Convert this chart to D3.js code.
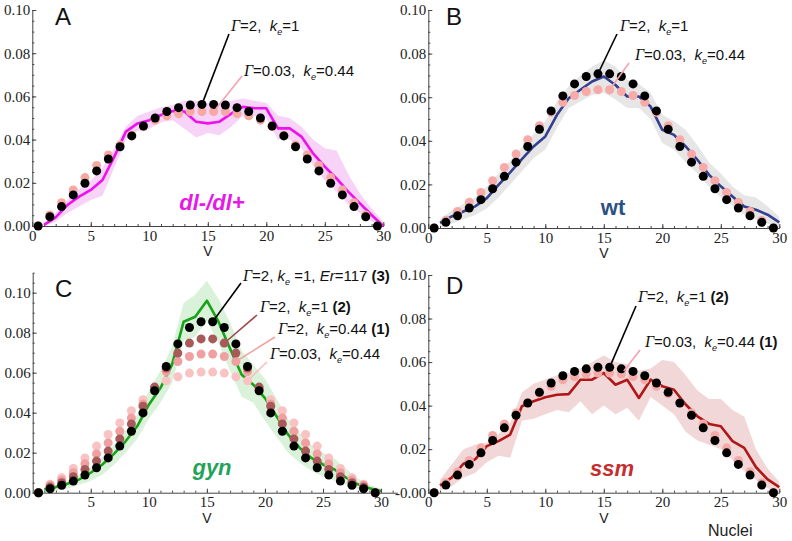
<!DOCTYPE html>
<html>
<head>
<meta charset="utf-8">
<script src="https://cdn.jsdelivr.net/npm/d3@7"></script>
<style>
  body { margin: 0; background: #fff; }
  svg { display: block; }
  .axis path, .axis line { stroke: #444; stroke-width: 1; }
  .axis text { font-family: "Liberation Serif", "Times New Roman", serif; font-size: 15px; fill: #222; }
  .ann { font-family: "Liberation Sans", Arial, sans-serif; font-size: 15px; fill: #111; white-space: pre; }
</style>
</head>
<body>
<svg id="chart" width="792" height="541"></svg>
<script>
// nuclei positions (dots at half-steps, measured curves at integers)
const xDots = [0.5,1.5,2.5,3.5,4.5,5.5,6.5,7.5,8.5,9.5,10.5,11.5,12.5,13.5,14.5,15.5,16.5,17.5,18.5,19.5,20.5,21.5,22.5,23.5,24.5,25.5,26.5,27.5,28.5,29.5];
const xLine = [1,2,3,4,5,6,7,8,9,10,11,12,13,14,15,16,17,18,19,20,21,22,23,24,25,26,27,28,29,30];
const yTicks = [0, 0.02, 0.04, 0.06, 0.08, 0.10];
const xTicksFull = [0, 5, 10, 15, 20, 25, 30];
const xTicksNoZero = [5, 10, 15, 20, 25, 30];

// A: dl-/dl+
const dlBlack = [0,0.0043,0.009,0.0144,0.0198,0.0255,0.031,0.0367,0.0417,0.0463,0.050,0.053,0.0548,0.056,0.0563,0.0563,0.056,0.0548,0.053,0.050,0.0463,0.0417,0.0367,0.031,0.0255,0.0198,0.0144,0.009,0.0043,0];
const dlPink = [0,0.0051,0.0108,0.0167,0.0224,0.028,0.0329,0.0375,0.042,0.046,0.049,0.051,0.052,0.053,0.053,0.053,0.053,0.052,0.051,0.049,0.046,0.042,0.0375,0.0329,0.028,0.0224,0.0167,0.0108,0.0051,0];
const dlLine = [0.0005,0.004,0.0097,0.0136,0.0167,0.0213,0.032,0.0437,0.0475,0.049,0.0514,0.0532,0.053,0.0483,0.0475,0.0483,0.052,0.0552,0.0545,0.0545,0.0452,0.0452,0.0414,0.0336,0.0275,0.022,0.0159,0.0105,0.0051,0];
const dlUpper = [0.001,0.006,0.012,0.017,0.021,0.027,0.036,0.046,0.051,0.053,0.055,0.056,0.058,0.058,0.057,0.057,0.058,0.059,0.058,0.057,0.051,0.050,0.046,0.040,0.036,0.035,0.024,0.015,0.008,0.002];
const dlLower = [0,0.002,0.006,0.009,0.012,0.014,0.027,0.040,0.044,0.045,0.048,0.049,0.045,0.041,0.043,0.042,0.046,0.051,0.051,0.050,0.040,0.040,0.036,0.028,0.021,0.016,0.010,0.006,0.002,0];

// B: wt
const wtBlack = [0,0.0026,0.0056,0.0092,0.013,0.018,0.0237,0.0302,0.0374,0.0453,0.0537,0.0606,0.0661,0.0695,0.0707,0.0707,0.0695,0.0661,0.0606,0.0537,0.0453,0.0374,0.0302,0.0237,0.018,0.013,0.0092,0.0056,0.0026,0];
const wtPink = [0,0.0035,0.0076,0.0118,0.0163,0.0217,0.0278,0.0339,0.0405,0.0469,0.0531,0.0577,0.0608,0.0626,0.0634,0.0634,0.0626,0.0608,0.0577,0.0531,0.0469,0.0405,0.0339,0.0278,0.0217,0.0163,0.0118,0.0076,0.0035,0];
const wtLine = [0.0023,0.0053,0.0076,0.0099,0.0137,0.0198,0.0255,0.0316,0.0374,0.042,0.0519,0.0595,0.0634,0.0672,0.0695,0.0656,0.0603,0.0603,0.0557,0.045,0.0427,0.0374,0.0313,0.0244,0.0191,0.0145,0.0099,0.0084,0.0061,0.0026];
const wtUpper = [0.004,0.008,0.011,0.014,0.019,0.025,0.031,0.037,0.043,0.049,0.058,0.065,0.070,0.074,0.077,0.074,0.068,0.066,0.062,0.052,0.049,0.045,0.038,0.030,0.025,0.019,0.015,0.014,0.010,0.005];
const wtLower = [0,0.002,0.004,0.006,0.009,0.014,0.020,0.026,0.032,0.036,0.046,0.055,0.058,0.061,0.062,0.059,0.055,0.055,0.050,0.039,0.036,0.030,0.025,0.019,0.014,0.010,0.006,0.004,0.002,0];

// C: gyn
const gynBlack = [0,0.002,0.0037,0.0058,0.0088,0.0125,0.0174,0.0233,0.0307,0.0399,0.051,0.0631,0.0744,0.0826,0.0855,0.0855,0.0826,0.0744,0.0631,0.051,0.0399,0.0307,0.0233,0.0174,0.0125,0.0088,0.0058,0.0037,0.002,0];
const gynBrown = [0,0.0028,0.005,0.008,0.0116,0.0158,0.0208,0.0269,0.0344,0.0432,0.0528,0.0623,0.0698,0.0748,0.0769,0.0769,0.0748,0.0698,0.0623,0.0528,0.0432,0.0344,0.0269,0.0208,0.0158,0.0116,0.008,0.005,0.0028,0];
const gynPink = [0,0.0037,0.0063,0.01,0.0145,0.0194,0.0249,0.0307,0.0374,0.0444,0.0523,0.0606,0.0656,0.0681,0.0693,0.0693,0.0681,0.0656,0.0606,0.0523,0.0444,0.0374,0.0307,0.0249,0.0194,0.0145,0.01,0.0063,0.0037,0];
const gynLight = [0,0.0042,0.0075,0.0121,0.0174,0.0233,0.0291,0.0349,0.041,0.0465,0.052,0.056,0.058,0.0598,0.0603,0.0603,0.0598,0.058,0.056,0.052,0.0465,0.041,0.0349,0.0291,0.0233,0.0174,0.0121,0.0075,0.0042,0];
const gynLine = [0.0017,0.0028,0.0045,0.0066,0.01,0.0141,0.0194,0.0257,0.0332,0.044,0.0523,0.064,0.0855,0.088,0.096,0.0855,0.072,0.059,0.054,0.0473,0.0382,0.029,0.0224,0.0174,0.0141,0.0116,0.0075,0.0042,0.0022,0.0008];
const gynUpper = [0.003,0.004,0.006,0.009,0.013,0.018,0.024,0.031,0.039,0.051,0.061,0.073,0.095,0.099,0.106,0.097,0.085,0.071,0.064,0.057,0.047,0.037,0.030,0.024,0.020,0.017,0.012,0.007,0.004,0.002];
const gynLower = [0,0.001,0.002,0.004,0.006,0.009,0.014,0.020,0.027,0.037,0.045,0.055,0.076,0.078,0.086,0.075,0.061,0.048,0.045,0.036,0.028,0.020,0.015,0.011,0.008,0.006,0.004,0.002,0.001,0];

// D: ssm
const ssmBlack = [0,0.0035,0.0081,0.013,0.0183,0.024,0.0298,0.0356,0.0412,0.0461,0.0504,0.0537,0.0557,0.0569,0.0576,0.0576,0.0569,0.0557,0.0537,0.0504,0.0461,0.0412,0.0356,0.0298,0.024,0.0183,0.013,0.0081,0.0035,0];
const ssmPink = [0,0.0046,0.0096,0.0148,0.0206,0.0263,0.0316,0.0366,0.0412,0.0455,0.0489,0.0519,0.0534,0.0545,0.055,0.055,0.0545,0.0534,0.0519,0.0489,0.0455,0.0412,0.0366,0.0316,0.0263,0.0206,0.0148,0.0096,0.0046,0];
const ssmLine = [0.0034,0.0069,0.0133,0.0153,0.0214,0.0237,0.0267,0.0397,0.042,0.0438,0.045,0.0453,0.0519,0.0519,0.055,0.0496,0.0519,0.0435,0.0519,0.0489,0.0473,0.0405,0.0351,0.0316,0.0305,0.0237,0.0206,0.0118,0.0061,0.0026];
const ssmUpper = [0.006,0.013,0.020,0.022,0.023,0.027,0.032,0.046,0.050,0.052,0.054,0.055,0.057,0.060,0.063,0.060,0.059,0.056,0.057,0.061,0.060,0.054,0.047,0.043,0.043,0.038,0.035,0.020,0.011,0.005];
const ssmLower = [0.001,0.003,0.007,0.009,0.014,0.017,0.016,0.033,0.034,0.036,0.038,0.037,0.042,0.036,0.040,0.036,0.039,0.033,0.044,0.040,0.036,0.028,0.024,0.022,0.020,0.015,0.010,0.006,0.002,0];

const svg = d3.select("#chart");
const fmt = d3.format(".2f");

function addLabel(g, segs, x, y) {
  const t = g.append("text").attr("class", "ann").attr("x", x).attr("y", y);
  let shift = 0;
  segs.forEach(([str, kind]) => {
    const ts = t.append("tspan").text(str);
    const want = kind === "s" ? 4 : 0;
    if (want !== shift) { ts.attr("dy", want - shift); shift = want; }
    if (kind === "g") ts.attr("font-family", "'Liberation Serif', serif").attr("font-style", "italic").attr("font-size", 16);
    if (kind === "i") ts.attr("font-style", "italic");
    if (kind === "s") ts.attr("font-style", "italic").attr("font-size", 9);
    if (kind === "b") ts.attr("font-weight", "bold");
  });
}

function drawPanel(p) {
  const x = d3.scaleLinear().domain(p.xDomain).range(p.xRange);
  const y = d3.scaleLinear().domain(p.yDomain).range(p.yRange);
  const g = svg.append("g");

  const area = d3.area()
    .x((d, i) => x(xLine[i]))
    .y0(d => y(d[0]))
    .y1(d => y(d[1]));
  g.append("path")
    .datum(d3.zip(p.lower, p.upper))
    .attr("d", area)
    .attr("fill", p.bandColor)
    .attr("fill-opacity", 0.75);

  // axes (Mathematica style: ticks pointing inward)
  const minorY = d3.range(0, p.yDomain[1] + 1e-9, 0.005);
  const minorX = d3.range(1, p.xDomain[1] + 1e-9, 1);
  g.append("g").attr("class", "axis")
    .attr("transform", `translate(0,${p.yRange[0]})`)
    .call(d3.axisBottom(x).tickValues(minorX).tickSizeInner(-2).tickSizeOuter(0).tickFormat(""))
    .call(a => a.select(".domain").remove());
  g.append("g").attr("class", "axis")
    .attr("transform", `translate(0,${p.yRange[0]})`)
    .call(d3.axisBottom(x).tickValues(p.xTicks).tickSizeInner(-4).tickSizeOuter(0).tickPadding(4).tickFormat(d3.format("d")));
  g.append("g").attr("class", "axis")
    .attr("transform", `translate(${p.xRange[0]},0)`)
    .call(d3.axisLeft(y).tickValues(minorY).tickSizeInner(-2).tickSizeOuter(0).tickFormat(""))
    .call(a => a.select(".domain").remove());
  g.append("g").attr("class", "axis")
    .attr("transform", `translate(${p.xRange[0]},0)`)
    .call(d3.axisLeft(y).tickValues(yTicks).tickSizeInner(-4).tickSizeOuter(0).tickPadding(2)
      .tickFormat(d => (d === 0 && p.negZero) ? "-0.00" : fmt(d)));

  const line = d3.line().x((d, i) => x(xLine[i])).y(d => y(d));
  g.append("path")
    .datum(p.line)
    .attr("d", line)
    .attr("fill", "none")
    .attr("stroke", p.lineColor)
    .attr("stroke-width", 2.6)
    .attr("stroke-linejoin", "round");

  p.dots.forEach(s => {
    g.append("g").selectAll("circle")
      .data(s.values)
      .join("circle")
      .attr("cx", (d, i) => x(xDots[i]))
      .attr("cy", d => y(d))
      .attr("r", 4.5)
      .attr("fill", s.color);
  });

  // leader lines + annotation text
  p.notes.forEach(n => {
    const s = p.dots.find(dd => dd.key === n.series);
    const cx = x(xDots[n.i]), cy = y(s.values[n.i]);
    const dx = n.from[0] - cx, dy = n.from[1] - cy;
    const len = Math.hypot(dx, dy);
    g.append("line")
      .attr("x1", n.from[0]).attr("y1", n.from[1])
      .attr("x2", cx + dx / len * 4).attr("y2", cy + dy / len * 4)
      .attr("stroke", n.color).attr("stroke-width", 1.6);
    addLabel(g, n.segs, n.tx, n.ty);
  });

  g.append("text")
    .attr("x", p.letterPos[0]).attr("y", p.letterPos[1])
    .attr("font-family", "'Liberation Sans', Arial, sans-serif")
    .attr("font-size", 24).attr("fill", "#111")
    .text(p.letter);

  g.append("text")
    .attr("x", x(15)).attr("y", p.yRange[0] + 30)
    .attr("text-anchor", "middle")
    .attr("font-family", "'Liberation Sans', Arial, sans-serif")
    .attr("font-size", 14).attr("fill", "#222")
    .text("V");

  g.append("text")
    .attr("x", p.genoPos[0]).attr("y", p.genoPos[1])
    .attr("text-anchor", "middle")
    .attr("font-family", "'Liberation Sans', Arial, sans-serif")
    .attr("font-size", 22).attr("font-weight", "bold")
    .attr("font-style", p.genoItalic ? "italic" : "normal")
    .attr("fill", p.genoColor)
    .text(p.geno);
}

const segG2 = [["Γ", "g"], ["=2,  ", "n"], ["k", "i"], ["e", "s"], ["=1", "n"]];
const segG003 = [["Γ", "g"], ["=0.03,  ", "n"], ["k", "i"], ["e", "s"], ["=0.44", "n"]];

drawPanel({
  xDomain: [0, 30], xRange: [32.3, 383.3], yDomain: [0, 0.1], yRange: [226, 10],
  xTicks: xTicksFull,
  lower: dlLower, upper: dlUpper, bandColor: "#f6c4f6",
  line: dlLine, lineColor: "#ee11ee",
  dots: [{ key: "pink", values: dlPink, color: "#f5a9a2" }, { key: "black", values: dlBlack, color: "#000" }],
  notes: [
    { segs: segG2, tx: 231, ty: 31, from: [229, 34], series: "black", i: 14, color: "#000" },
    { segs: segG003, tx: 244, ty: 76, from: [242, 76], series: "pink", i: 15, color: "#f4a3b3" }
  ],
  letter: "A", letterPos: [55, 25],
  geno: "dl-/dl+", genoPos: [212, 210], genoColor: "#e619e6", genoItalic: true
});

drawPanel({
  xDomain: [0, 30], xRange: [428.3, 779.3], yDomain: [0, 0.1], yRange: [228, 10],
  xTicks: xTicksFull,
  lower: wtLower, upper: wtUpper, bandColor: "#dedede",
  line: wtLine, lineColor: "#34408f",
  dots: [{ key: "pink", values: wtPink, color: "#f7aaa8" }, { key: "black", values: wtBlack, color: "#000" }],
  notes: [
    { segs: segG2, tx: 620, ty: 31, from: [617, 34], series: "black", i: 14, color: "#000" },
    { segs: segG003, tx: 635, ty: 60, from: [629, 63], series: "pink", i: 15, color: "#f4a3b3" }
  ],
  letter: "B", letterPos: [446, 25],
  geno: "wt", genoPos: [613, 215], genoColor: "#2b5282", genoItalic: false
});

drawPanel({
  xDomain: [0, 31.4], xRange: [32.7, 397.3], yDomain: [0, 0.11], yRange: [492.7, 272.7],
  xTicks: xTicksNoZero,
  lower: gynLower, upper: gynUpper, bandColor: "#cdeccd",
  line: gynLine, lineColor: "#17a317",
  dots: [
    { key: "light", values: gynLight, color: "#f9c3c3" },
    { key: "pink", values: gynPink, color: "#f0a0a0" },
    { key: "brown", values: gynBrown, color: "#a85a5a" },
    { key: "black", values: gynBlack, color: "#000" }
  ],
  notes: [
    { segs: [["Γ", "g"], ["=2, ", "n"], ["k", "i"], ["e", "s"], [" =1, ", "n"], ["Er", "i"], ["=117 ", "n"], ["(3)", "b"]],
      tx: 243, ty: 281, from: [241, 283], series: "black", i: 15, color: "#000" },
    { segs: [["Γ", "g"], ["=2,  ", "n"], ["k", "i"], ["e", "s"], ["=1 ", "n"], ["(2)", "b"]],
      tx: 260, ty: 312, from: [257, 315], series: "brown", i: 16, color: "#9e4a4a" },
    { segs: [["Γ", "g"], ["=2,  ", "n"], ["k", "i"], ["e", "s"], ["=0.44 ", "n"], ["(1)", "b"]],
      tx: 278, ty: 334, from: [275, 337], series: "pink", i: 17, color: "#f4a0a0" },
    { segs: segG003, tx: 270, ty: 359, from: [267, 362], series: "light", i: 18, color: "#f8bfbf" }
  ],
  letter: "C", letterPos: [55, 297],
  geno: "gyn", genoPos: [212, 475], genoColor: "#1fa35a", genoItalic: true
});

drawPanel({
  xDomain: [0, 30], xRange: [428.3, 779.3], yDomain: [0, 0.1], yRange: [492.7, 275],
  xTicks: xTicksFull, negZero: true,
  lower: ssmLower, upper: ssmUpper, bandColor: "#eccaca",
  line: ssmLine, lineColor: "#b01818",
  dots: [{ key: "pink", values: ssmPink, color: "#f6aaa8" }, { key: "black", values: ssmBlack, color: "#000" }],
  notes: [
    { segs: [["Γ", "g"], ["=2,  ", "n"], ["k", "i"], ["e", "s"], ["=1 ", "n"], ["(2)", "b"]],
      tx: 638, ty: 302, from: [636, 306], series: "black", i: 15, color: "#000" },
    { segs: [["Γ", "g"], ["=0.03,  ", "n"], ["k", "i"], ["e", "s"], ["=0.44 ", "n"], ["(1)", "b"]],
      tx: 645, ty: 347, from: [640, 350], series: "pink", i: 16, color: "#f4a3b3" }
  ],
  letter: "D", letterPos: [446, 294],
  geno: "ssm", genoPos: [612, 476], genoColor: "#c42e2e", genoItalic: true
});

svg.append("text")
  .attr("x", 708).attr("y", 536)
  .attr("font-family", "'Liberation Sans', Arial, sans-serif")
  .attr("font-size", 16).attr("fill", "#222")
  .text("Nuclei");
</script>
</body>
</html>
